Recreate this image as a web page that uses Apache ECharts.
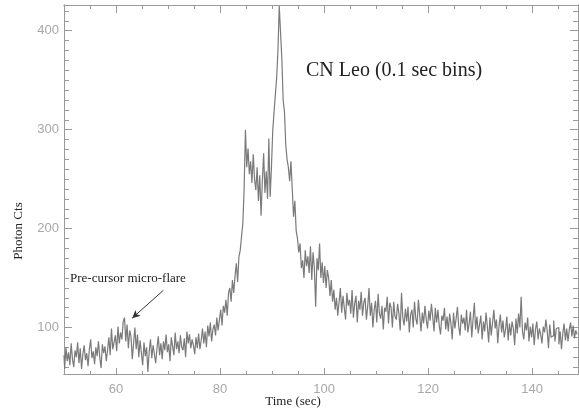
<!DOCTYPE html>
<html>
<head>
<meta charset="utf-8">
<script src="https://cdn.jsdelivr.net/npm/echarts@6/dist/echarts.min.js"></script>
<style>
  html, body { margin: 0; padding: 0; background: #fff; }
  #chart { width: 579px; height: 410px; }
</style>
</head>
<body>
<div id="chart"></div>
<script>
// light curve, counts per bin (4 bins per second)
const t0 = 50
const binWidth = 0.25

const precursorCounts = [
  72, 58, 80, 66,  75, 62, 84, 68,  60, 77, 70, 85,  64, 79, 58, 73,
  82, 67, 74, 61,  78, 88, 69, 76,  63, 80, 71, 86,  70, 59, 83, 74,
  81, 66, 77, 90,  72, 99, 78, 85,  92, 76, 101, 84, 95, 88, 106, 110,
  86, 103, 79, 97, 91, 68, 84, 100, 78, 93, 70, 87
]
const quietCounts = [
  74, 62, 85, 71,  80, 55, 76, 88,  69, 82, 73, 64,  79, 91, 72, 84,
  68, 86, 77, 93,  75, 83, 66, 90,  81, 72, 95, 78,  86, 74, 92, 80,
  77, 89, 70, 96,  84, 93, 79, 88
]
const riseCounts = [
  82, 73, 90, 79,  94, 78, 87, 99,  84, 96, 80, 102, 91, 105, 86, 98,
  103, 92, 110, 97, 108, 118, 102, 122, 115, 128, 112, 135, 140, 126, 148, 135,
  152, 165, 146, 172, 178, 192, 205, 240, 300, 262, 281, 255, 268, 246, 275, 250,
  239, 262, 228, 254, 213, 248, 276, 236, 258, 230, 291, 232
]
const peakCounts = [
  262, 299, 318, 335, 352, 380, 425, 398, 372, 330, 318, 285, 270, 262, 248, 268,
  240, 212, 228, 198, 190, 176, 185, 160, 168, 150, 178, 162, 172, 155, 182, 148,
  176, 160, 121, 170, 158, 185, 150, 166
]
const decayCounts = [
  145, 162, 140, 158, 150, 132, 148, 126, 138, 118, 130, 112, 126, 140, 115, 132,
  120, 108, 135, 122, 128, 114, 138, 110, 124, 132, 105, 127, 118, 136, 112, 125,
  130, 108, 121, 140, 112, 125, 100, 118, 127, 105, 134, 114, 109, 122, 98, 120,
  116, 131, 104, 125, 120, 100, 126, 111, 108, 124, 114, 97, 135, 110, 102, 119,
  106, 121, 95, 113, 118, 100, 126, 109, 103, 128, 112, 96, 115, 104, 122, 108,
  99, 117, 107, 124, 111, 96, 120, 105
]
const tailCounts = [
  118, 102, 93, 112, 107, 120, 98, 111, 96, 114, 104, 88, 115, 99, 109, 121,
  101, 92, 113, 104, 110, 97, 118, 95, 104, 116, 90, 108, 125, 98, 111, 94,
  103, 112, 88, 106, 96, 115, 101, 85, 110, 92, 105, 118, 99, 108, 84, 102,
  113, 95, 107, 90, 98, 111, 87, 104, 92, 106, 99, 82, 109, 94, 114, 100,
  131, 96, 88, 105, 97, 110, 86, 101, 90, 104, 82, 98, 106, 88, 99, 93,
  84, 101, 95, 108, 97, 79, 103, 90, 92, 107, 86, 99, 100, 83, 96, 78,
  94, 104, 87, 99, 86, 98, 105, 91, 102, 89, 97, 93
]

const xMajor = [60, 80, 100, 120, 140]
const xMinor = [55, 65, 70, 75, 85, 90, 95, 105, 110, 115, 125, 130, 135, 145]
const yMajor = [100, 200, 300, 400]
const yMinor = [60, 70, 80, 90, 110, 120, 130, 140, 150, 160, 170, 180, 190,
  210, 220, 230, 240, 250, 260, 270, 280, 290, 310, 320, 330, 340, 350, 360,
  370, 380, 390, 410, 420]

const arrowFrom = [69.1, 137.6]
const arrowTo = [63.1, 109.4]

const counts = [].concat(precursorCounts, quietCounts, riseCounts, peakCounts, decayCounts, tailCounts)
const curve = counts.map(function (v, i) { return [t0 + i * binWidth, v] })

const axisColor = '#9a9a9a'
const labelFont = { color: '#a8a8a8', fontFamily: 'Liberation Sans', fontSize: 13 }
const serif = '"Liberation Serif", "DejaVu Serif", serif'

function xAxisDef(position, ticks, len, labels) {
  return {
    type: 'value', position: position, min: 50, max: 148.8,
    axisLine: { show: true, onZero: false, lineStyle: { color: axisColor, width: 1 } },
    axisTick: { show: true, inside: true, length: len, customValues: ticks, lineStyle: { color: axisColor } },
    axisLabel: labels ? Object.assign({ show: true, customValues: labels, margin: 9 }, labelFont) : { show: false },
    splitLine: { show: false }
  }
}
function yAxisDef(position, ticks, len, labels) {
  return {
    type: 'value', position: position, min: 53, max: 426,
    axisLine: { show: true, onZero: false, lineStyle: { color: axisColor, width: 1 } },
    axisTick: { show: true, inside: true, length: len, customValues: ticks, lineStyle: { color: axisColor } },
    axisLabel: labels ? Object.assign({ show: true, customValues: labels, margin: 5 }, labelFont) : { show: false },
    splitLine: { show: false }
  }
}

const chart = echarts.init(document.getElementById('chart'))
chart.setOption({
  animation: false,
  grid: { left: 64, right: 1, top: 5, bottom: 36 },
  xAxis: [
    xAxisDef('bottom', xMajor, 6, xMajor),
    xAxisDef('bottom', xMinor, 3),
    xAxisDef('top', xMajor, 8),
    xAxisDef('top', xMinor, 4)
  ],
  yAxis: [
    yAxisDef('left', yMajor, 8, yMajor),
    yAxisDef('left', yMinor, 5),
    yAxisDef('right', yMajor, 8),
    yAxisDef('right', yMinor, 5)
  ],
  series: [{
    type: 'line',
    xAxisIndex: 0,
    yAxisIndex: 0,
    step: 'middle',
    showSymbol: false,
    symbol: 'none',
    data: curve,
    lineStyle: { color: '#7a7a7a', width: 1.2 },
    markLine: {
      silent: true,
      symbol: ['none', 'arrow'],
      symbolSize: [6, 8],
      label: { show: false },
      lineStyle: { color: '#333', width: 1, type: 'solid' },
      data: [[{ coord: arrowFrom }, { coord: arrowTo }]]
    }
  }],
  graphic: [
    {
      type: 'text', x: 306, y: 71,
      style: { text: 'CN Leo (0.1 sec bins)', font: '20px ' + serif, fill: '#222', textVerticalAlign: 'middle' }
    },
    {
      type: 'text', x: 70, y: 279,
      style: { text: 'Pre-cursor micro-flare', font: '13px ' + serif, fill: '#222', textVerticalAlign: 'middle' }
    },
    {
      type: 'text', x: 293, y: 402,
      style: { text: 'Time (sec)', font: '13px ' + serif, fill: '#222', textAlign: 'center', textVerticalAlign: 'middle' }
    },
    {
      type: 'text', x: 19, y: 231, rotation: Math.PI / 2,
      style: { text: 'Photon Cts', font: '13px ' + serif, fill: '#222', textAlign: 'center', textVerticalAlign: 'middle' }
    }
  ]
})
</script>
</body>
</html>
